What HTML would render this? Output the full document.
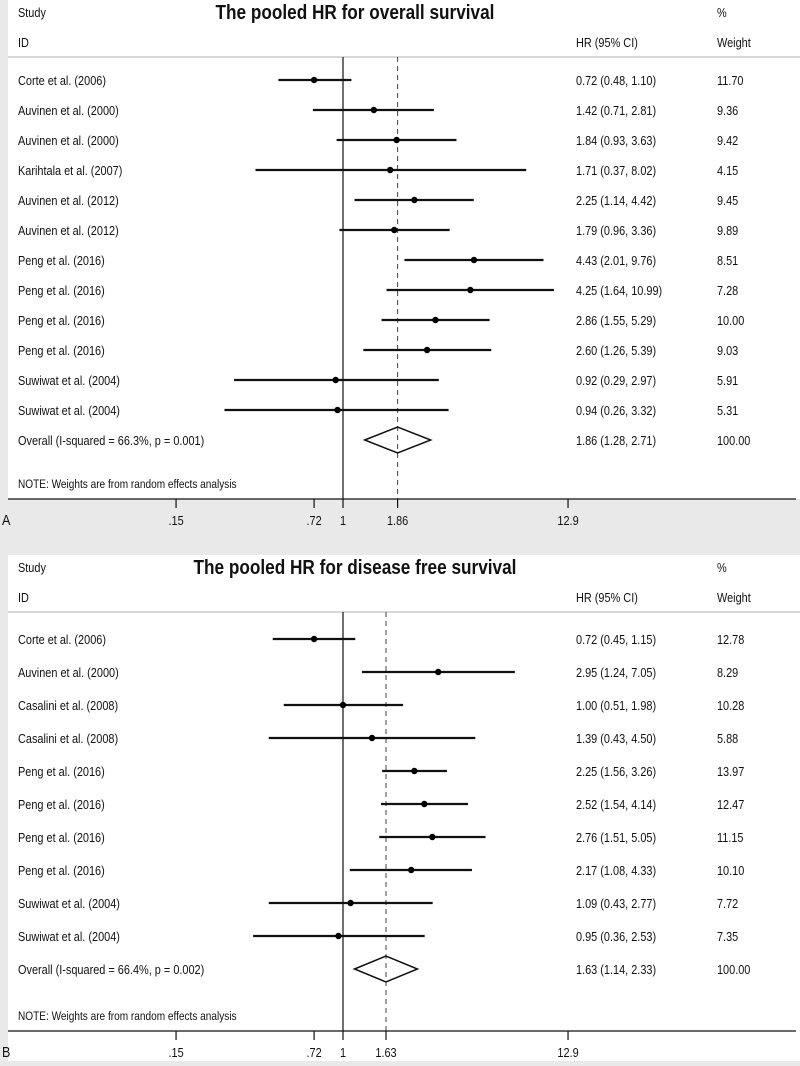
<!DOCTYPE html>
<html><head><meta charset="utf-8"><style>
body{margin:0;width:800px;height:1061px;background:#e9e9e9;overflow:hidden}
svg text{font-family:"Liberation Sans Narrow","Liberation Sans",sans-serif;fill:#111}
</style></head><body>
<svg id="chart" width="800" height="1061" xmlns="http://www.w3.org/2000/svg"></svg>
<script>
const studiesA=["Corte et al. (2006)","Auvinen et al. (2000)","Auvinen et al. (2000)","Karihtala et al. (2007)","Auvinen et al. (2012)","Auvinen et al. (2012)","Peng et al. (2016)","Peng et al. (2016)","Peng et al. (2016)","Peng et al. (2016)","Suwiwat et al. (2004)","Suwiwat et al. (2004)"];
const hrA=[0.72,1.42,1.84,1.71,2.25,1.79,4.43,4.25,2.86,2.60,0.92,0.94];
const loA=[0.48,0.71,0.93,0.37,1.14,0.96,2.01,1.64,1.55,1.26,0.29,0.26];
const hiA=[1.10,2.81,3.63,8.02,4.42,3.36,9.76,10.99,5.29,5.39,2.97,3.32];
const wA=["11.70","9.36","9.42","4.15","9.45","9.89","8.51","7.28","10.00","9.03","5.91","5.31"];
const pooledA=[1.86,1.28,2.71];
const studiesB=["Corte et al. (2006)","Auvinen et al. (2000)","Casalini et al. (2008)","Casalini et al. (2008)","Peng et al. (2016)","Peng et al. (2016)","Peng et al. (2016)","Peng et al. (2016)","Suwiwat et al. (2004)","Suwiwat et al. (2004)"];
const hrB=[0.72,2.95,1.00,1.39,2.25,2.52,2.76,2.17,1.09,0.95];
const loB=[0.45,1.24,0.51,0.43,1.56,1.54,1.51,1.08,0.43,0.36];
const hiB=[1.15,7.05,1.98,4.50,3.26,4.14,5.05,4.33,2.77,2.53];
const wB=["12.78","8.29","10.28","5.88","13.97","12.47","11.15","10.10","7.72","7.35"];
const pooledB=[1.63,1.14,2.33];
const ticks=[0.15,0.72,1,12.9];
const tickLabels=[".15",".72","1","12.9"];

const svg=document.getElementById('chart');
const NS="http://www.w3.org/2000/svg";
function el(tag,attrs,parent){const e=document.createElementNS(NS,tag);for(const k in attrs)e.setAttribute(k,attrs[k]);(parent||svg).appendChild(e);return e;}
function txt(s,x,y,size,parent,anchor,weight,sx){sx=sx||0.84;const t=el('text',{x:x/sx,y:y,'font-size':size,'text-anchor':anchor||'start','font-weight':weight||'normal',transform:`scale(${sx},1)`},parent);t.textContent=s;return t;}
const xs=v=>343+88*Math.log(v);

function panel(cfg){
  const g=el('g',{});
  
  
  const bg=el('rect',{x:8,y:cfg.top,width:792,height:cfg.axisY-cfg.top,fill:'#fff'},g);
  
  
  if(cfg.whiteBelow){el('rect',{x:8,y:cfg.axisY,width:792,height:1061-cfg.axisY,fill:'#fff'},g);}
  let t=txt('Study',18,cfg.top+17,13,g);
  t=txt(cfg.title,355,cfg.top+19,20,g,'middle','bold',0.86);
  t=txt('%',717,cfg.top+17,13,g);
  t=txt('ID',18,cfg.top+47,13,g);
  t=txt('HR (95% CI)',576,cfg.top+47,13,g);
  t=txt('Weight',717,cfg.top+47,13,g);
  const hl=el('line',{x1:8,x2:800,y1:cfg.top+57,y2:cfg.top+57,stroke:'#ccc','stroke-width':1.5},g);
  
  const lineTop=cfg.top+57;
  const nl=el('line',{x1:xs(1),x2:xs(1),y1:lineTop,y2:cfg.axisY,stroke:'#111','stroke-width':1.2},g);
  
  const pl=el('line',{x1:xs(cfg.pooled[0]),x2:xs(cfg.pooled[0]),y1:lineTop,y2:cfg.axisY,stroke:'#444','stroke-width':1,'stroke-dasharray':'5,4'},g);
  
  cfg.studies.forEach((s,i)=>{
    const y=cfg.row0+cfg.step*i;
    let a=txt(s,18,y+5,13,g);
    const ci=el('line',{x1:xs(cfg.lo[i]),x2:xs(cfg.hi[i]),y1:y,y2:y,stroke:'#111','stroke-width':2.2},g);
    
    const pt=el('circle',{cx:xs(cfg.hr[i]),cy:y,r:3.2,fill:'#000'},g);
    
    a=txt(cfg.hr[i].toFixed(2)+' ('+cfg.lo[i].toFixed(2)+', '+cfg.hi[i].toFixed(2)+')',576,y+5,13,g);
    a=txt(cfg.w[i],717,y+5,13,g);
  });
  const oy=cfg.row0+cfg.step*cfg.studies.length;
  let a=txt(cfg.overall,18,oy+5,13,g);
  const p=cfg.pooled;
  const dm=el('polygon',{points:`${xs(p[1])},${oy} ${xs(p[0])},${oy-13} ${xs(p[2])},${oy} ${xs(p[0])},${oy+13}`,fill:'none',stroke:'#111','stroke-width':1.5},g);
  
  a=txt(p[0].toFixed(2)+' ('+p[1].toFixed(2)+', '+p[2].toFixed(2)+')',576,oy+5,13,g);
  a=txt('100.00',717,oy+5,13,g);
  a=txt('NOTE: Weights are from random effects analysis',18,cfg.axisY-11,12,g);
  const ax=el('line',{x1:8,x2:796,y1:cfg.axisY,y2:cfg.axisY,stroke:'#111','stroke-width':1.2},g);
  
  const tv=ticks.concat([p[0]]), tl=tickLabels.concat([p[0].toFixed(2)]);
  tv.forEach((v,i)=>{
    const tk=el('line',{x1:xs(v),x2:xs(v),y1:cfg.axisY,y2:cfg.axisY+9,stroke:'#111','stroke-width':1.2},g);
    
    const lb=txt(tl[i],xs(v),cfg.axisY+26,13,g,'middle');
    
  });
  a=txt(cfg.letter,2,cfg.axisY+26,15,g);
}
panel({name:'panel-a-overall-survival',top:0,axisY:499,row0:80,step:30,title:'The pooled HR for overall survival',studies:studiesA,hr:hrA,lo:loA,hi:hiA,w:wA,pooled:pooledA,overall:'Overall  (I-squared = 66.3%, p = 0.001)',letter:'A'});
panel({name:'panel-b-disease-free-survival',top:555,axisY:1031,row0:639,step:33,title:'The pooled HR for disease free survival',studies:studiesB,hr:hrB,lo:loB,hi:hiB,w:wB,pooled:pooledB,overall:'Overall  (I-squared = 66.4%, p = 0.002)',letter:'B',whiteBelow:true});
</script>
</body></html>
